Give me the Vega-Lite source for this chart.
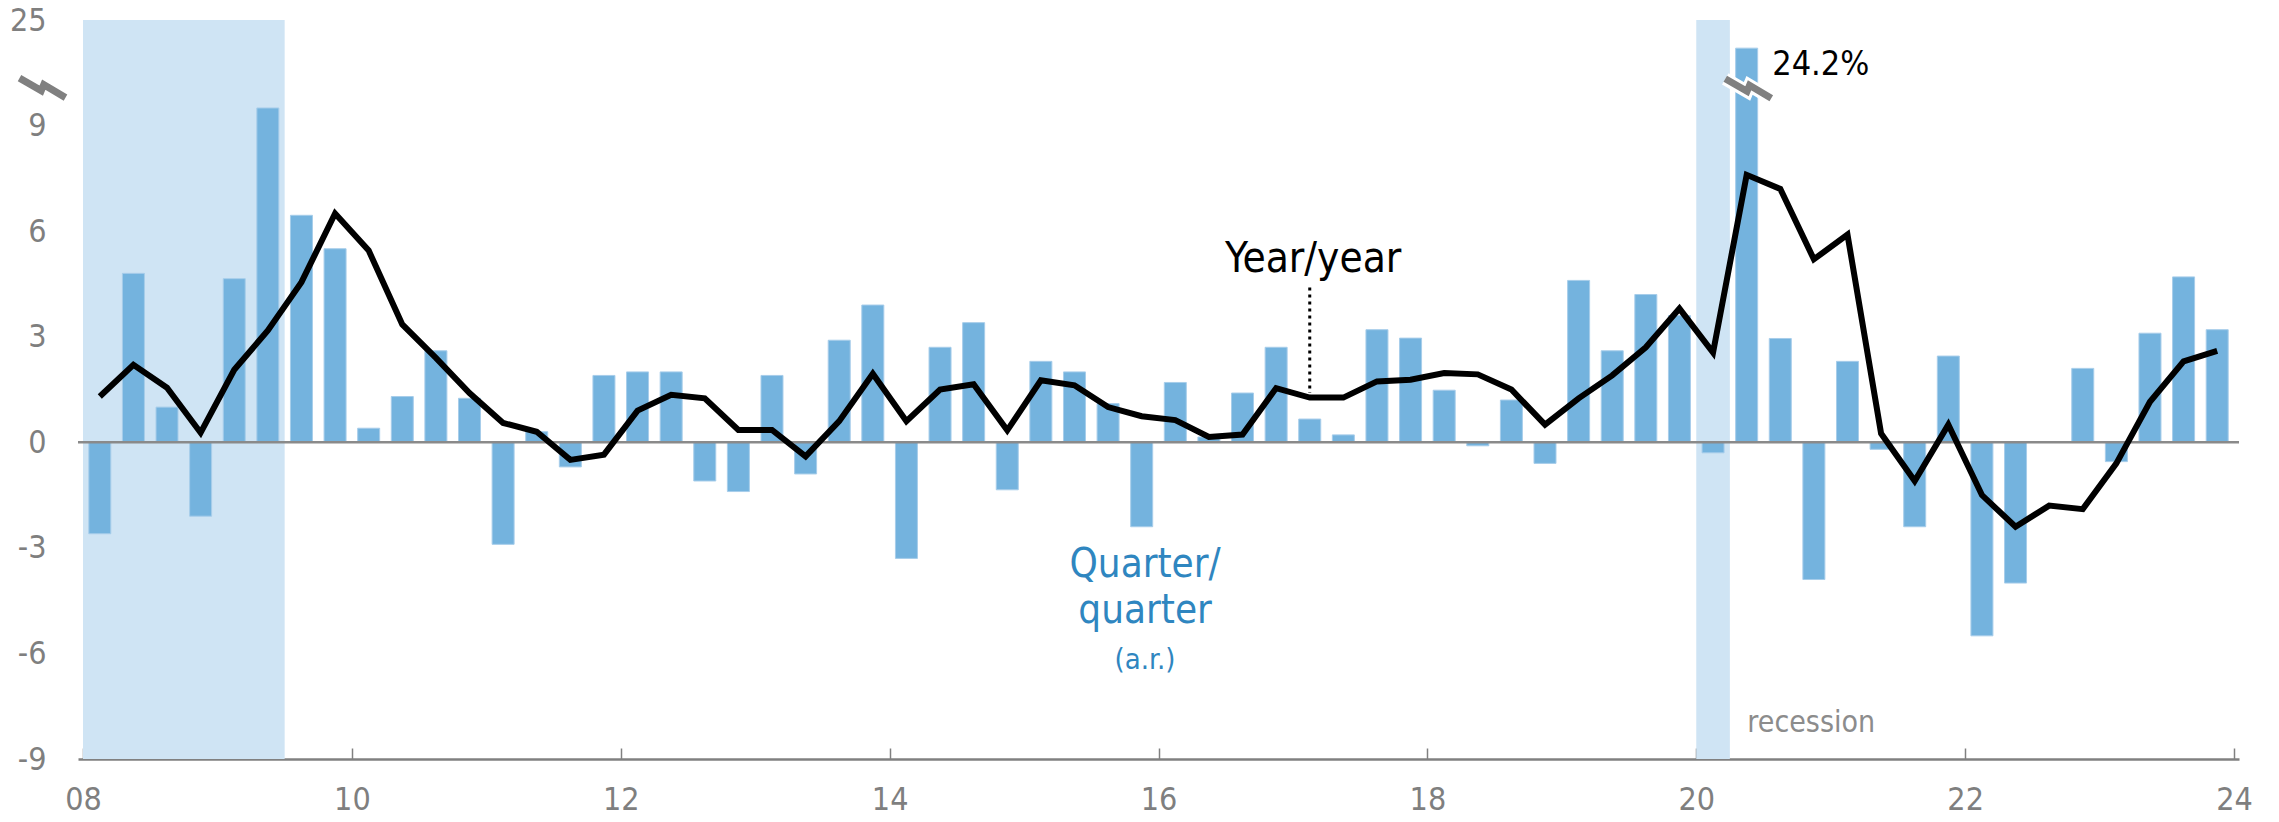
{
  "$schema": "https://vega.github.io/schema/vega-lite/v6.json",
  "width": 2161,
  "height": 739,
  "autosize": {"type": "none"},
  "padding": {"left": 78, "top": 20, "right": 40, "bottom": 63},
  "background": "white",
  "config": {
    "view": {"stroke": null},
    "font": "DejaVu Sans Condensed, Liberation Sans Narrow, sans-serif"
  },
  "data": {"values": [{}]},
  "datasets": {
    "gdp": [
      {"q": "2008Q1", "date": 2008.125, "qoq": -2.6, "yoy": 1.3},
      {"q": "2008Q2", "date": 2008.375, "qoq": 4.8, "yoy": 2.2},
      {"q": "2008Q3", "date": 2008.625, "qoq": 1.0, "yoy": 1.55},
      {"q": "2008Q4", "date": 2008.875, "qoq": -2.1, "yoy": 0.27},
      {"q": "2009Q1", "date": 2009.125, "qoq": 4.65, "yoy": 2.06},
      {"q": "2009Q2", "date": 2009.375, "qoq": 9.5, "yoy": 3.18},
      {"q": "2009Q3", "date": 2009.625, "qoq": 6.45, "yoy": 4.55},
      {"q": "2009Q4", "date": 2009.875, "qoq": 5.5, "yoy": 6.5},
      {"q": "2010Q1", "date": 2010.125, "qoq": 0.4, "yoy": 5.45},
      {"q": "2010Q2", "date": 2010.375, "qoq": 1.3, "yoy": 3.35},
      {"q": "2010Q3", "date": 2010.625, "qoq": 2.6, "yoy": 2.4},
      {"q": "2010Q4", "date": 2010.875, "qoq": 1.25, "yoy": 1.4},
      {"q": "2011Q1", "date": 2011.125, "qoq": -2.9, "yoy": 0.55},
      {"q": "2011Q2", "date": 2011.375, "qoq": 0.3, "yoy": 0.3},
      {"q": "2011Q3", "date": 2011.625, "qoq": -0.7, "yoy": -0.5},
      {"q": "2011Q4", "date": 2011.875, "qoq": 1.9, "yoy": -0.35},
      {"q": "2012Q1", "date": 2012.125, "qoq": 2.0, "yoy": 0.9},
      {"q": "2012Q2", "date": 2012.375, "qoq": 2.0, "yoy": 1.35},
      {"q": "2012Q3", "date": 2012.625, "qoq": -1.1, "yoy": 1.25},
      {"q": "2012Q4", "date": 2012.875, "qoq": -1.4, "yoy": 0.35},
      {"q": "2013Q1", "date": 2013.125, "qoq": 1.9, "yoy": 0.35},
      {"q": "2013Q2", "date": 2013.375, "qoq": -0.9, "yoy": -0.4},
      {"q": "2013Q3", "date": 2013.625, "qoq": 2.9, "yoy": 0.6},
      {"q": "2013Q4", "date": 2013.875, "qoq": 3.9, "yoy": 1.95},
      {"q": "2014Q1", "date": 2014.125, "qoq": -3.3, "yoy": 0.6},
      {"q": "2014Q2", "date": 2014.375, "qoq": 2.7, "yoy": 1.5},
      {"q": "2014Q3", "date": 2014.625, "qoq": 3.4, "yoy": 1.65},
      {"q": "2014Q4", "date": 2014.875, "qoq": -1.35, "yoy": 0.34},
      {"q": "2015Q1", "date": 2015.125, "qoq": 2.3, "yoy": 1.76},
      {"q": "2015Q2", "date": 2015.375, "qoq": 2.0, "yoy": 1.62},
      {"q": "2015Q3", "date": 2015.625, "qoq": 1.1, "yoy": 1.0},
      {"q": "2015Q4", "date": 2015.875, "qoq": -2.4, "yoy": 0.74},
      {"q": "2016Q1", "date": 2016.125, "qoq": 1.7, "yoy": 0.63},
      {"q": "2016Q2", "date": 2016.375, "qoq": 0.15, "yoy": 0.15},
      {"q": "2016Q3", "date": 2016.625, "qoq": 1.4, "yoy": 0.22},
      {"q": "2016Q4", "date": 2016.875, "qoq": 2.7, "yoy": 1.54},
      {"q": "2017Q1", "date": 2017.125, "qoq": 0.66, "yoy": 1.27},
      {"q": "2017Q2", "date": 2017.375, "qoq": 0.21, "yoy": 1.27},
      {"q": "2017Q3", "date": 2017.625, "qoq": 3.2, "yoy": 1.73},
      {"q": "2017Q4", "date": 2017.875, "qoq": 2.96, "yoy": 1.78},
      {"q": "2018Q1", "date": 2018.125, "qoq": 1.48, "yoy": 1.97},
      {"q": "2018Q2", "date": 2018.375, "qoq": -0.1, "yoy": 1.93},
      {"q": "2018Q3", "date": 2018.625, "qoq": 1.2, "yoy": 1.5},
      {"q": "2018Q4", "date": 2018.875, "qoq": -0.6, "yoy": 0.5},
      {"q": "2019Q1", "date": 2019.125, "qoq": 4.6, "yoy": 1.25},
      {"q": "2019Q2", "date": 2019.375, "qoq": 2.6, "yoy": 1.9},
      {"q": "2019Q3", "date": 2019.625, "qoq": 4.2, "yoy": 2.7},
      {"q": "2019Q4", "date": 2019.875, "qoq": 3.6, "yoy": 3.8},
      {"q": "2020Q1", "date": 2020.125, "qoq": -0.3, "yoy": 2.55},
      {"q": "2020Q2", "date": 2020.375, "qoq": 24.2, "yoy": 7.6},
      {"q": "2020Q3", "date": 2020.625, "qoq": 2.95, "yoy": 7.2},
      {"q": "2020Q4", "date": 2020.875, "qoq": -3.9, "yoy": 5.2},
      {"q": "2021Q1", "date": 2021.125, "qoq": 2.3, "yoy": 5.9},
      {"q": "2021Q2", "date": 2021.375, "qoq": -0.2, "yoy": 0.25},
      {"q": "2021Q3", "date": 2021.625, "qoq": -2.4, "yoy": -1.1},
      {"q": "2021Q4", "date": 2021.875, "qoq": 2.45, "yoy": 0.5},
      {"q": "2022Q1", "date": 2022.125, "qoq": -5.5, "yoy": -1.5},
      {"q": "2022Q2", "date": 2022.375, "qoq": -4.0, "yoy": -2.4},
      {"q": "2022Q3", "date": 2022.625, "qoq": 0.0, "yoy": -1.8},
      {"q": "2022Q4", "date": 2022.875, "qoq": 2.1, "yoy": -1.9},
      {"q": "2023Q1", "date": 2023.125, "qoq": -0.55, "yoy": -0.6},
      {"q": "2023Q2", "date": 2023.375, "qoq": 3.1, "yoy": 1.15},
      {"q": "2023Q3", "date": 2023.625, "qoq": 4.7, "yoy": 2.3},
      {"q": "2023Q4", "date": 2023.875, "qoq": 3.2, "yoy": 2.6}
    ],
    "recessions": [
      {"start": 2008, "end": 2009.5},
      {"start": 2020, "end": 2020.25}
    ]
  },
  "layer": [
    {
      "data": {"name": "recessions"},
      "mark": {"type": "rect", "color": "#cfe4f4"},
      "encoding": {
        "x": {
          "field": "start", "type": "quantitative",
          "scale": {"domain": [2008, 2024], "nice": false, "zero": false},
          "axis": {
            "values": [2008, 2010, 2012, 2014, 2016, 2018, 2020, 2022, 2024],
            "labelExpr": "substring(toString(datum.value), 2, 4)",
            "title": null,
            "grid": false,
            "domainColor": "#808080",
            "domainWidth": 2.5,
            "tickColor": "#808080",
            "tickWidth": 1.5,
            "tickSize": -11,
            "labelPadding": 36,
            "labelFontSize": 32,
            "labelColor": "#7f7f7f",
            "labelFont": "DejaVu Sans Condensed, Liberation Sans Narrow, sans-serif"
          }
        },
        "x2": {"field": "end"},
        "y": {"datum": -9, "type": "quantitative"},
        "y2": {"datum": 12}
      }
    },
    {
      "data": {"name": "gdp"},
      "transform": [{"calculate": "min(datum.qoq, 11.2)", "as": "plotted"}],
      "mark": {"type": "bar", "size": 22, "color": "#74b3de", "stroke": "#a7cdea", "strokeWidth": 1, "orient": "vertical"},
      "encoding": {
        "x": {"field": "date", "type": "quantitative"},
        "y": {
          "field": "plotted", "type": "quantitative",
          "scale": {"domain": [-9, 12], "nice": false, "zero": false},
          "axis": {
            "values": [-9, -6, -3, 0, 3, 6, 9, 12],
            "labelExpr": "datum.value == 12 ? '25' : toString(datum.value)",
            "title": null,
            "grid": false,
            "domain": false,
            "ticks": false,
            "labelPadding": 32,
            "labelFontSize": 32,
            "labelColor": "#7f7f7f",
            "labelFont": "DejaVu Sans Condensed, Liberation Sans Narrow, sans-serif"
          }
        },
        "y2": {"datum": 0}
      }
    },
    {
      "mark": {"type": "rule", "color": "#8a8a8a", "strokeWidth": 2.5},
      "encoding": {"y": {"datum": 0, "type": "quantitative"}}
    },
    {
      "data": {"name": "gdp"},
      "mark": {"type": "line", "color": "#000000", "strokeWidth": 6, "strokeJoin": "miter"},
      "encoding": {
        "x": {"field": "date", "type": "quantitative"},
        "y": {"field": "yoy", "type": "quantitative"}
      }
    },
    {
      "mark": {"type": "rule", "color": "#000000", "strokeWidth": 3, "strokeDash": [3, 4]},
      "encoding": {
        "x": {"datum": 2017.125, "type": "quantitative"},
        "y": {"datum": 4.4, "type": "quantitative"},
        "y2": {"datum": 1.4}
      }
    },
    {
      "mark": {"type": "text", "text": "Year/year", "fontSize": 42, "color": "#000000", "align": "center", "baseline": "alphabetic"},
      "encoding": {
        "x": {"datum": 2017.15, "type": "quantitative"},
        "y": {"datum": 4.83, "type": "quantitative"}
      }
    },
    {
      "mark": {"type": "text", "text": ["Quarter/", "quarter"], "fontSize": 40, "lineHeight": 46, "color": "#2f86c0", "align": "center", "baseline": "alphabetic"},
      "encoding": {
        "x": {"datum": 2015.9, "type": "quantitative"},
        "y": {"datum": -3.84, "type": "quantitative"}
      }
    },
    {
      "mark": {"type": "text", "text": "(a.r.)", "fontSize": 29, "color": "#2f86c0", "align": "center", "baseline": "alphabetic"},
      "encoding": {
        "x": {"datum": 2015.9, "type": "quantitative"},
        "y": {"datum": -6.45, "type": "quantitative"}
      }
    },
    {
      "mark": {"type": "text", "text": "24.2%", "fontSize": 34, "color": "#000000", "align": "left", "baseline": "alphabetic"},
      "encoding": {
        "x": {"datum": 2020.565, "type": "quantitative"},
        "y": {"datum": 10.43, "type": "quantitative"}
      }
    },
    {
      "mark": {"type": "text", "text": "recession", "fontSize": 30, "color": "#8c8c8c", "align": "left", "baseline": "alphabetic"},
      "encoding": {
        "x": {"datum": 2020.38, "type": "quantitative"},
        "y": {"datum": -8.24, "type": "quantitative"}
      }
    },
    {
      "mark": {
        "type": "point", "filled": false, "size": 2500, "opacity": 1,
        "shape": "M -0.92 -0.42 L -0.05 0.08 L 0.05 -0.16 L 0.92 0.36",
        "color": "#ffffff", "strokeWidth": 13, "strokeJoin": "miter", "strokeCap": "butt"
      },
      "encoding": {
        "x": {"datum": 2020.387, "type": "quantitative"},
        "y": {"datum": 10.03, "type": "quantitative"}
      }
    },
    {
      "mark": {
        "type": "point", "filled": false, "size": 2500, "opacity": 1,
        "shape": "M -0.92 -0.42 L -0.05 0.08 L 0.05 -0.16 L 0.92 0.36",
        "color": "#808080", "strokeWidth": 7, "strokeJoin": "miter", "strokeCap": "butt"
      },
      "encoding": {
        "x": {"datum": 2020.387, "type": "quantitative"},
        "y": {"datum": 10.03, "type": "quantitative"}
      }
    },
    {
      "mark": {
        "type": "point", "filled": false, "size": 2500, "opacity": 1, "clip": false, "xOffset": -40.5,
        "shape": "M -0.92 -0.42 L -0.05 0.08 L 0.05 -0.16 L 0.92 0.36",
        "color": "#808080", "strokeWidth": 7, "strokeJoin": "miter", "strokeCap": "butt"
      },
      "encoding": {
        "x": {"datum": 2008, "type": "quantitative"},
        "y": {"datum": 10.05, "type": "quantitative"}
      }
    }
  ]
}
